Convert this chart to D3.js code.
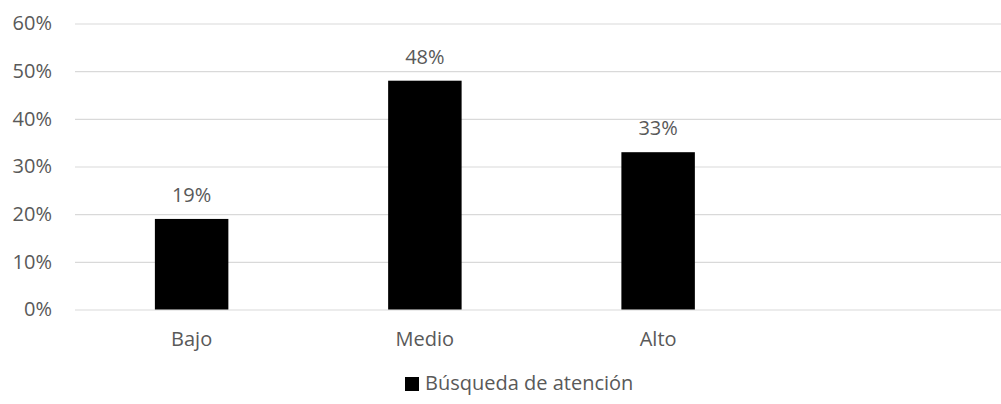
<!DOCTYPE html>
<html><head><meta charset="utf-8">
<script src="https://cdn.jsdelivr.net/npm/d3@7"></script>
<style>body{margin:0;background:#fff}text{font-family:"Open Sans",sans-serif;fill:#595959}</style>
</head><body><svg id="c" width="1001" height="404"></svg>
<script>
const categories = ["Bajo", "Medio", "Alto", ""];
const values = [0.19, 0.48, 0.33, null];
const yTicks = [0, 0.1, 0.2, 0.3, 0.4, 0.5, 0.6];
const seriesName = "Búsqueda de atención";

const svg = d3.select("#c");
const x = d3.scaleBand().domain(categories).range([75, 1008]).paddingInner(0.685).paddingOuter(0.3425);
const y = d3.scaleLinear().domain([0, 0.6]).range([309.5, 23.5]);
const FS = 20;

const yAxis = svg.append("g").attr("transform","translate(75,0)")
  .call(d3.axisLeft(y).tickValues(yTicks).tickFormat(d3.format(".0%")).tickSize(-940).tickPadding(23));
yAxis.select(".domain").remove();
yAxis.selectAll("line").attr("stroke","#d9d9d9").attr("stroke-width",1.2);
yAxis.selectAll("text").attr("font-size",FS).attr("font-family","Open Sans");

const xAxis = svg.append("g").attr("transform","translate(0,309.5)")
  .call(d3.axisBottom(x).tickSize(0).tickPadding(22));
xAxis.select(".domain").remove();
xAxis.selectAll("text").attr("font-size",FS).attr("font-family","Open Sans");

const data = categories.map((c,i)=>({c, v: values[i]})).filter(d=>d.v!=null);
svg.selectAll("rect.bar").data(data).join("rect").attr("class","bar")
  .attr("x", d=>x(d.c)).attr("width", x.bandwidth())
  .attr("y", d=>y(d.v)).attr("height", d=>y(0)-y(d.v)).attr("fill","#000");
svg.selectAll("text.lbl").data(data).join("text").attr("class","lbl")
  .attr("x", d=>x(d.c)+x.bandwidth()/2).attr("y", d=>y(d.v)-17)
  .attr("text-anchor","middle").attr("font-size",FS).text(d=>d3.format(".0%")(d.v));

const lg = svg.append("g");
lg.append("rect").attr("x",405).attr("y",377).attr("width",14).attr("height",14).attr("fill","#000");
lg.append("text").attr("x",425).attr("y",390).attr("font-size",FS).text(seriesName);
</script></body></html>
